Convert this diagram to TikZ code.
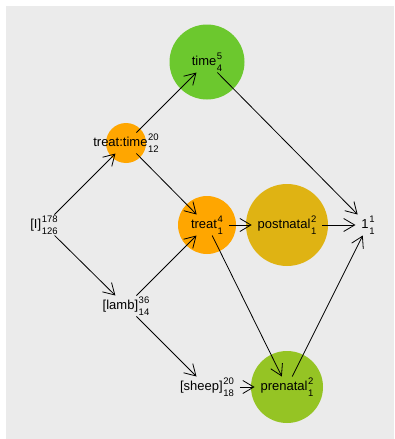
\documentclass[tikz,border=0pt]{standalone}
\usepackage{fontspec}
\setmainfont{Liberation Sans}
\usetikzlibrary{arrows.meta}
\definecolor{bggray}{HTML}{EBEBEB}
\definecolor{cgreen}{HTML}{6CC82E}
\definecolor{corange}{HTML}{FFA600}
\definecolor{cgold}{HTML}{DFB313}
\definecolor{colive}{HTML}{95C424}
\newcommand\lbl[3]{#1\hspace{0.6pt}\raisebox{0pt}[11pt][5pt]{\fontsize{9.5}{12.5}\selectfont\begin{tabular}[c]{@{}l@{}}#2\\#3\end{tabular}}}
\tikzset{
  lab/.style={inner sep=1pt,outer xsep=5pt,outer ysep=1.5pt,font=\fontsize{13}{15}\selectfont},
  blob/.style={circle,inner sep=0pt,draw=none},
  edge/.style={line width=0.8pt,-{Straight Barb[length=11pt,width=13pt,line width=0.8pt]}}
}
\begin{document}
\begin{tikzpicture}[x=1pt,y=-1pt]
\useasboundingbox (0,0) rectangle (394,439);
\fill[bggray] (6,6) rectangle (394,439);
% circles
\node[blob,fill=cgreen,minimum size=75pt] (ctime) at (207,62) {};
\node[blob,fill=corange,minimum size=40pt] (ctt) at (126,143) {};
\node[blob,fill=corange,minimum size=58pt] (ctreat) at (207,225) {};
\node[blob,fill=cgold,minimum size=82pt] (cpost) at (287,225) {};
\node[blob,fill=colive,minimum size=72pt] (cpre) at (287,387) {};
% labels
\node[lab] (I) at (44,225) {\lbl{[I]}{178}{126}};
\node[lab] (tt) at (126,143) {\lbl{treat:time}{20}{12}};
\node[lab] (time) at (207,62) {\lbl{time}{5}{4}};
\node[lab] (treat) at (207,225) {\lbl{treat}{4}{1}};
\node[lab] (post) at (287,225) {\lbl{postnatal}{2}{1}};
\node[lab] (one) at (368,225) {\lbl{1}{1}{1}};
\node[lab] (lamb) at (126,306) {\lbl{[lamb]}{36}{14}};
\node[lab] (sheep) at (207,387) {\lbl{[sheep]}{20}{18}};
\node[lab] (pre) at (287,387) {\lbl{prenatal}{2}{1}};
% edges
\draw[edge] (I) -- (tt);
\draw[edge] (I) -- (lamb);
\draw[edge] (tt) -- (time);
\draw[edge] (tt) -- (treat);
\draw[edge] (lamb) -- (treat);
\draw[edge] (lamb) -- (sheep);
\draw[edge] (treat) -- (post);
\draw[edge] (treat) -- (pre);
\draw[edge] (sheep) -- (pre);
\draw[edge] (time) -- (one);
\draw[edge] (post) -- (one);
\draw[edge] (pre) -- (one);
\end{tikzpicture}
\end{document}
